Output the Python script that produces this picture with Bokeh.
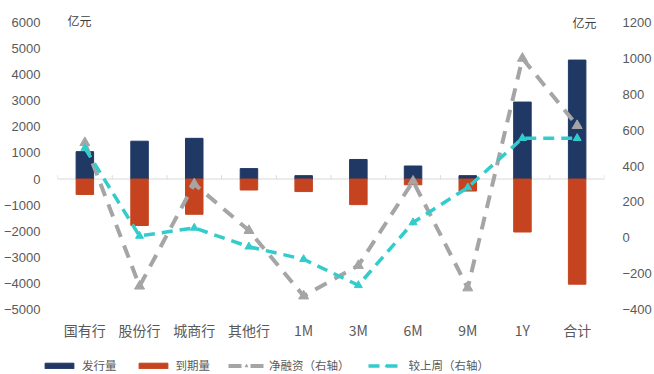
from bokeh.plotting import figure
from bokeh.layouts import column
from bokeh.models import (Range1d, LinearAxis, FixedTicker, Legend, LegendItem,
                          Label, Span)
from bokeh.embed import file_html
from bokeh.resources import INLINE

# ---- data ----
categories = ["国有行", "股份行", "城商行", "其他行", "1M", "3M", "6M", "9M", "1Y", "合计"]
issuance = [1050, 1450, 1560, 400, 130, 750, 500, 130, 2950, 4560]
maturity = [-590, -1780, -1350, -420, -480, -980, -220, -460, -2030, -4030]
net_financing = [530, -270, 300, 40, -325, -155, 315, -280, 1000, 625]
wow_change = [500, 10, 55, -50, -120, -265, 85, 280, 555, 555]
left_ticks = list(range(-5000, 6001, 1000))
right_ticks = list(range(-400, 1201, 200))
unit = "亿元"
series_names = ["发行量", "到期量", "净融资（右轴）", "较上周（右轴）"]

BLUE = "#1F3864"
RED = "#C5441F"
GREY = "#A5A5A5"
TEAL = "#33CCCC"
TXT = "#595959"
NUM_FONT = "Liberation Sans"
CJK_FONT = "Noto Sans CJK SC"

n = len(categories)
xs = list(range(n))

W = 654
MAIN_H = 345
LEG_H = 374 - MAIN_H

# headroom above the top tick so the unit labels sit inside the frame
TOP_PAD_PX = 14
PLOT_H_PX = 287
l_span = left_ticks[-1] - left_ticks[0]
r_span = right_ticks[-1] - right_ticks[0]
l_top = left_ticks[-1] + l_span * TOP_PAD_PX / PLOT_H_PX
r_top = right_ticks[-1] + r_span * TOP_PAD_PX / PLOT_H_PX

p = figure(width=W, height=MAIN_H, output_backend="svg", toolbar_location=None,
           x_range=Range1d(-0.5, n - 0.5),
           y_range=Range1d(left_ticks[0], l_top),
           min_border_left=55, min_border_right=44, min_border_top=22 - TOP_PAD_PX,
           min_border_bottom=MAIN_H - 22 - PLOT_H_PX)
p.outline_line_color = None
p.xgrid.visible = False
p.ygrid.visible = False
p.background_fill_color = "white"
p.border_fill_color = "white"

p.extra_y_ranges = {"right": Range1d(right_ticks[0], r_top)}

# left axis
ya = p.yaxis[0]
ya.ticker = FixedTicker(ticks=left_ticks)
ya.axis_line_color = None
ya.major_tick_line_color = None
ya.minor_tick_line_color = None
ya.major_label_standoff = 11
ya.major_label_text_font = NUM_FONT
ya.major_label_text_font_size = "13px"
ya.major_label_text_color = TXT

# right axis
ra = LinearAxis(y_range_name="right", ticker=FixedTicker(ticks=right_ticks))
ra.axis_line_color = None
ra.major_tick_line_color = None
ra.minor_tick_line_color = None
ra.major_label_standoff = 12
ra.major_label_text_font = NUM_FONT
ra.major_label_text_font_size = "13px"
ra.major_label_text_color = TXT
p.add_layout(ra, "right")

# bottom axis
xa = p.xaxis[0]
xa.ticker = FixedTicker(ticks=xs)
xa.major_label_overrides = {i: c for i, c in enumerate(categories)}
xa.axis_line_color = None
xa.major_tick_line_color = None
xa.minor_tick_line_color = None
xa.major_label_standoff = 4
xa.major_label_text_font = CJK_FONT
xa.major_label_text_font_size = "14px"
xa.major_label_text_color = TXT

# zero line with category boundary ticks
p.add_layout(Span(location=0, dimension="width", line_color="#D9D9D9",
                  line_width=1, level="underlay"))
bounds = [i - 0.5 for i in range(n + 1)]
p.segment(x0=bounds, x1=bounds, y0=[0] * len(bounds), y1=[150] * len(bounds),
          line_color="#D9D9D9", line_width=1, level="underlay")

bw = 0.32
bar_styles = [dict(fill_color=BLUE, line_color=BLUE), dict(fill_color=RED, line_color=RED)]
net_line = dict(line_color=GREY, line_width=4, line_dash="13 9")
net_mark = dict(marker="triangle", size=10, fill_color=GREY, line_color=GREY)
wow_line = dict(line_color=TEAL, line_width=3.5, line_dash="11 7")
wow_mark = dict(marker="triangle", size=8, fill_color=TEAL, line_color=TEAL)

p.vbar(x=xs, top=issuance, bottom=0, width=bw, **bar_styles[0])
p.vbar(x=xs, top=0, bottom=maturity, width=bw, **bar_styles[1])
p.line(xs, net_financing, y_range_name="right", **net_line)
p.scatter(xs, net_financing, y_range_name="right", **net_mark)
p.line(xs, wow_change, y_range_name="right", **wow_line)
p.scatter(xs, wow_change, y_range_name="right", **wow_mark)

# unit labels
p.add_layout(Label(x=-0.5, y=left_ticks[-1], x_offset=10, y_offset=2, text=unit,
                   text_baseline="middle", text_font=CJK_FONT,
                   text_font_size="12px", text_color="#404040"))
p.add_layout(Label(x=n - 0.5, y=right_ticks[-1], y_range_name="right", x_offset=-8,
                   y_offset=0, text=unit, text_align="right", text_baseline="middle",
                   text_font=CJK_FONT, text_font_size="12px", text_color="#404040"))

# ---- legend strip (proxy renderers hidden, only their legend swatches show) ----
q = figure(width=W, height=LEG_H, output_backend="svg", toolbar_location=None,
           x_range=Range1d(0, 1), y_range=Range1d(0, 1),
           x_axis_location=None, y_axis_location=None,
           min_border_left=41, min_border_right=0, min_border_top=0, min_border_bottom=1)
q.frame_align = False
q.xgrid.visible = False
q.ygrid.visible = False
q.outline_line_color = None
q.border_fill_color = "white"
q.background_fill_color = "white"

g_iss = q.vbar(x=xs, top=issuance, width=bw, visible=False, **bar_styles[0])
g_mat = q.vbar(x=xs, top=maturity, width=bw, visible=False, **bar_styles[1])
g_net_l = q.line(xs, net_financing, visible=False, **net_line)
g_net_m = q.scatter(xs, net_financing, visible=False, **net_mark)
g_wow_l = q.line(xs, wow_change, visible=False, **wow_line)
g_wow_m = q.scatter(xs, wow_change, visible=False, **wow_mark)

legend = Legend(items=[
    LegendItem(label=series_names[0], renderers=[g_iss]),
    LegendItem(label=series_names[1], renderers=[g_mat]),
    LegendItem(label=series_names[2], renderers=[g_net_l, g_net_m]),
    LegendItem(label=series_names[3], renderers=[g_wow_l, g_wow_m]),
], orientation="horizontal", location="bottom_left", glyph_width=36, glyph_height=7,
    label_height=14, label_standoff=5, spacing=18, padding=0, margin=0,
    label_text_font=CJK_FONT, label_text_font_size="11.5px", label_text_color=TXT,
    border_line_alpha=0, background_fill_alpha=0,
    inactive_fill_alpha=0)
q.add_layout(legend)

open("out.html", "w").write(file_html(column(p, q, spacing=0), INLINE))
